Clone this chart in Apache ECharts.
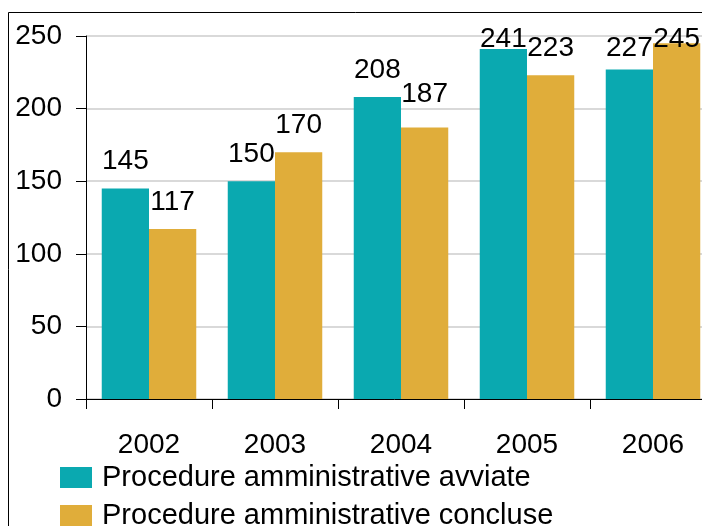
<!DOCTYPE html>
<html>
<head>
<meta charset="utf-8">
<script src="https://cdn.jsdelivr.net/npm/echarts@6/dist/echarts.min.js"></script>
<style>
  html, body { margin: 0; padding: 0; background: #ffffff; }
  #chart { width: 702px; height: 526px; }
</style>
</head>
<body>
<div id="chart"></div>
<script>
// Procedure amministrative per anno
const years = ['2002', '2003', '2004', '2005', '2006'];
const avviate = [145, 150, 208, 241, 227];
const concluse = [117, 170, 187, 223, 245];
const seriesNames = ['Procedure amministrative avviate', 'Procedure amministrative concluse'];
const yTicks = { min: 0, max: 250, interval: 50 };

// vertical nudges (px) for value labels that would collide with the top edge or neighbours
const avviateLabelShift = [0, 0, 0, 17, 6];
const concluseLabelShift = [0, 0, -6, 0, 23];

const FONT = '"Liberation Sans", Arial, sans-serif';
const TEAL = '#0aa9b0';
const GOLD = '#e0ad3a';

const chart = echarts.init(document.getElementById('chart'), null, { renderer: 'canvas' });

const labelStyle = {
  show: true,
  position: 'top',
  distance: 13,
  color: '#000',
  fontFamily: FONT,
  fontSize: 28
};

function withShifts(values, shifts) {
  return values.map((v, i) => ({
    value: v,
    label: { offset: [0, shifts[i]] }
  }));
}

const legendText = { fontFamily: FONT, fontSize: 29, color: '#000', padding: [0, 0, 0, 5] };

chart.setOption({
  animation: false,
  backgroundColor: '#ffffff',
  graphic: [{
    type: 'rect',
    shape: { x: 8.5, y: 12.5, width: 760, height: 600 },
    style: { fill: 'none', stroke: '#000', lineWidth: 1 },
    silent: true,
    z: 0
  }],
  grid: { left: 86, top: 36, width: 630, height: 363, containLabel: false, outerBoundsMode: 'none' },
  legend: [
    {
      left: 60, top: 463, padding: 0,
      itemWidth: 32, itemHeight: 21, icon: 'rect',
      textStyle: legendText,
      data: [seriesNames[0]]
    },
    {
      left: 60, top: 501, padding: 0,
      itemWidth: 32, itemHeight: 21, icon: 'rect',
      textStyle: legendText,
      data: [seriesNames[1]]
    }
  ],
  xAxis: {
    type: 'category',
    data: years,
    axisLine: { lineStyle: { color: '#000', width: 1 } },
    axisTick: { show: true, length: 10, lineStyle: { color: '#000' } },
    axisLabel: { color: '#000', fontFamily: FONT, fontSize: 28, margin: 32 },
    splitLine: { show: false }
  },
  yAxis: {
    type: 'value',
    min: yTicks.min,
    max: yTicks.max,
    interval: yTicks.interval,
    axisLine: { show: true, lineStyle: { color: '#000', width: 1 } },
    axisTick: { show: true, length: 10, lineStyle: { color: '#000' } },
    axisLabel: { color: '#000', fontFamily: FONT, fontSize: 28, margin: 24 },
    splitLine: { show: true, lineStyle: { color: '#d9d9d9', width: 2 } }
  },
  series: [
    {
      name: seriesNames[0],
      type: 'bar',
      data: withShifts(avviate, avviateLabelShift),
      itemStyle: { color: TEAL },
      barGap: '0%',
      barCategoryGap: '25%',
      label: labelStyle
    },
    {
      name: seriesNames[1],
      type: 'bar',
      data: withShifts(concluse, concluseLabelShift),
      itemStyle: { color: GOLD },
      barGap: '0%',
      barCategoryGap: '25%',
      label: labelStyle
    }
  ]
});
</script>
</body>
</html>
